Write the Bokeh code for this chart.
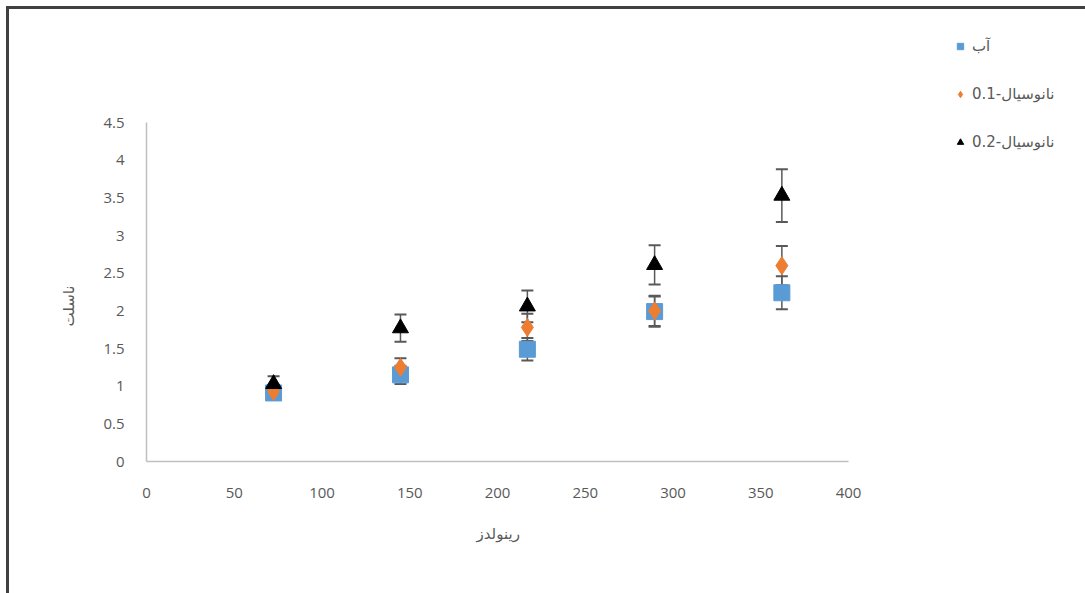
from bokeh.plotting import figure
from bokeh.models import ColumnDataSource, Whisker, Legend, LegendItem, Range1d, FixedTicker, Title
from bokeh.layouts import row
from bokeh.embed import file_html
from bokeh.resources import INLINE

# Data
reynolds = [72.4, 144.7, 217.0, 289.5, 362.0]
water = [0.91, 1.15, 1.49, 1.99, 2.24]
water_err = [0.09, 0.12, 0.15, 0.20, 0.22]
nf01 = [0.93, 1.25, 1.78, 2.00, 2.60]
nf01_err = [0.09, 0.12, 0.18, 0.20, 0.26]
nf02 = [1.03, 1.77, 2.06, 2.61, 3.53]
nf02_err = [0.10, 0.18, 0.21, 0.26, 0.35]

labels = ["آب", "0.1-نانوسیال", "0.2-نانوسیال"]
colors = ["#5B9BD5", "#ED7D31", "#000000"]
markers = ["square", "diamond", "triangle"]
sizes = [16, 18, 16]
x_ticks = [0, 50, 100, 150, 200, 250, 300, 350, 400]
y_ticks = [0, 0.5, 1, 1.5, 2, 2.5, 3, 3.5, 4, 4.5]
x_label = "رينولدز"
y_label = "ناسلت"

FONT = "Open Sans"
AFONT = "DejaVu Sans"
GREY = "#595959"

# frame extends to the top/right edges so the legend can sit inside it;
# the axes themselves are limited to 0-400 and 0-4.5 via bounds
p = figure(width=1076, height=584, output_backend="svg", toolbar_location=None,
           x_range=Range1d(0, 535), y_range=Range1d(0, 6.0),
           min_border_left=137, min_border_top=0, min_border_right=0, min_border_bottom=132)
p.outline_line_color = None
p.grid.visible = False

for ax in (p.xaxis[0], p.yaxis[0]):
    ax.axis_line_color = "#BFBFBF"
    ax.axis_line_width = 1.5
    ax.major_tick_line_color = None
    ax.minor_tick_line_color = None
    ax.major_label_text_font = FONT
    ax.major_label_text_font_size = "15px"
    ax.major_label_text_color = GREY

p.xaxis.bounds = (x_ticks[0], x_ticks[-1])
p.yaxis.bounds = (y_ticks[0], y_ticks[-1])
p.xaxis.ticker = FixedTicker(ticks=x_ticks)
p.yaxis.ticker = FixedTicker(ticks=y_ticks)
p.xaxis.major_label_standoff = 20
p.yaxis.major_label_standoff = 16

# axis titles as Titles so they centre on the 0-400 / 0-4.5 spans
xt = Title(text=x_label, align="left", offset=330, standoff=44,
           text_font=AFONT, text_font_size="15px", text_color=GREY,
           text_font_style="normal")
p.add_layout(xt, "below")
yt = Title(text=y_label, align="left", offset=135, standoff=46,
           text_font=AFONT, text_font_size="15px", text_color=GREY,
           text_font_style="normal")
p.add_layout(yt, "left")

series = [(water, water_err), (nf01, nf01_err), (nf02, nf02_err)]
items = []
for (ys, errs), lab, col, mk, sz in zip(series, labels, colors, markers, sizes):
    src = ColumnDataSource(dict(x=reynolds, y=ys,
                                lo=[a - b for a, b in zip(ys, errs)],
                                hi=[a + b for a, b in zip(ys, errs)]))
    w = Whisker(source=src, base="x", lower="lo", upper="hi",
                line_color=GREY, line_width=1.5)
    for h in (w.upper_head, w.lower_head):
        h.line_color = GREY
        h.line_width = 2
        h.size = 12
    r = p.scatter("x", "y", source=src, marker=mk, size=sz,
                  fill_color=col, line_color=col)
    p.add_layout(w)
    items.append(LegendItem(label=lab, renderers=[r]))

legend = Legend(items=items, location=(806, 309), orientation="vertical",
                label_text_font=AFONT, label_text_font_size="15px",
                label_text_color=GREY, glyph_width=16, glyph_height=20,
                label_height=20, spacing=28, padding=0, margin=0,
                border_line_color=None, background_fill_alpha=0,
                label_standoff=4)
p.add_layout(legend, "center")

layout = row(p, margin=(6, 0, 0, 6),
             styles={"border-left": "3px solid #404040", "border-top": "3px solid #404040"})

open("out.html", "w").write(file_html(layout, INLINE))
